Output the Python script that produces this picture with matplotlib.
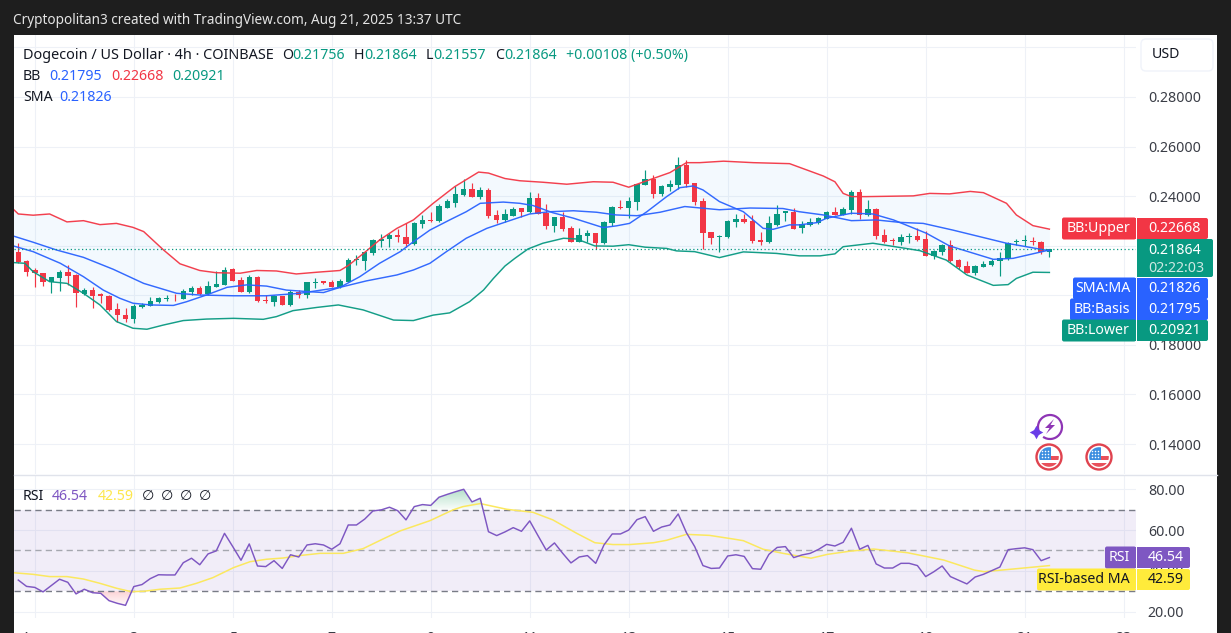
import numpy as np
import matplotlib
matplotlib.use("Agg")
import matplotlib.pyplot as plt
from matplotlib.patches import Rectangle, FancyBboxPatch, Circle, Arc, Polygon
from matplotlib.path import Path
from matplotlib.colors import LinearSegmentedColormap
from matplotlib.ticker import FixedLocator, FixedFormatter

plt.rcParams['font.family'] = ['Noto Sans', 'DejaVu Sans']

# DOGE/USD 4h bars
opens = [.2175,.2138,.2100,.2089,.2055,.2071,.2094,.2082,.2005,.2021,
         .2004,.1997,.1943,.1920,.1903,.1953,.1958,.1973,.1986,.1990,
         .1986,.2012,.2029,.2005,.2035,.2041,.2105,.2062,.2012,.2074,
         .1982,.1973,.1997,.1961,.2015,.2003,.2051,.2056,.2054,.2032,
         .2055,.2141,.2140,.2169,.2220,.2226,.2242,.2235,.2207,.2288,
         .2305,.2298,.2352,.2372,.2405,.2428,.2397,.2425,.2324,.2304,
         .2321,.2351,.2336,.2393,.2331,.2280,.2315,.2272,.2216,.2239,
         .2251,.2211,.2293,.2356,.2352,.2378,.2446,.2469,.2407,.2437,
         .2446,.2524,.2452,.2380,.2254,.2237,.2235,.2296,.2308,.2300,
         .2222,.2216,.2284,.2333,.2335,.2272,.2282,.2290,.2309,.2336,
         .2324,.2344,.2417,.2323,.2348,.2242,.2223,.2214,.2235,.2238,
         .2227,.2157,.2176,.2204,.2142,.2118,.2089,.2115,.2121,.2137,
         .2145,.2214,.2219,.2219,.2214,.21756]
closes = [.2133,.2095,.2089,.2055,.2072,.2094,.2079,.2008,.2021,.1998,
          .1998,.1941,.1920,.1903,.1957,.1962,.1976,.1989,.1990,.1988,
          .2017,.2029,.2005,.2037,.2044,.2102,.2059,.2013,.2074,.1977,
          .1978,.1997,.1962,.2015,.2001,.2052,.2055,.2050,.2035,.2058,
          .2142,.2145,.2173,.2223,.2228,.2243,.2234,.2206,.2290,.2304,
          .2300,.2360,.2380,.2409,.2429,.2398,.2424,.2320,.2304,.2327,
          .2350,.2336,.2393,.2329,.2280,.2315,.2267,.2216,.2242,.2251,
          .2212,.2296,.2356,.2352,.2379,.2448,.2468,.2409,.2440,.2448,
          .2526,.2448,.2376,.2253,.2233,.2239,.2300,.2306,.2296,.2220,
          .2216,.2290,.2328,.2339,.2269,.2288,.2296,.2312,.2336,.2325,
          .2348,.2417,.2324,.2347,.2241,.2215,.2219,.2235,.2238,.2223,
          .2160,.2177,.2202,.2138,.2116,.2090,.2118,.2125,.2138,.2149,
          .2210,.2220,.2222,.2214,.2176,.21864]
highs = [.2210,.2142,.2109,.2091,.2075,.2102,.2123,.2085,.2028,.2035,
         .2008,.2001,.1970,.1947,.1965,.1968,.1992,.1992,.2001,.2005,
         .2027,.2037,.2039,.2059,.2098,.2113,.2110,.2075,.2083,.2078,
         .2001,.2003,.1998,.2021,.2021,.2055,.2068,.2059,.2062,.2064,
         .2149,.2161,.2180,.2228,.2246,.2250,.2266,.2293,.2294,.2324,
         .2337,.2368,.2387,.2442,.2468,.2452,.2436,.2434,.2344,.2347,
         .2358,.2351,.2415,.2412,.2367,.2315,.2337,.2280,.2270,.2263,
         .2253,.2298,.2360,.2385,.2398,.2450,.2506,.2485,.2445,.2465,
         .2557,.2546,.2454,.2391,.2255,.2242,.2302,.2328,.2328,.2324,
         .2254,.2320,.2363,.2341,.2351,.2301,.2311,.2315,.2341,.2358,
         .2358,.2425,.2428,.2385,.2352,.2268,.2233,.2247,.2253,.2270,
         .2259,.2183,.2207,.2223,.2146,.2140,.2122,.2140,.2146,.2176,
         .2214,.2227,.2242,.2237,.2217,.21864]
lows = [.2129,.2078,.2035,.2038,.2011,.2019,.2041,.1954,.2001,.1947,
        .1970,.1938,.1894,.1894,.1887,.1950,.1957,.1970,.1977,.1977,
        .1983,.2001,.2003,.2001,.2035,.2040,.2056,.2012,.2008,.1974,
        .1968,.1958,.1961,.1958,.1988,.1988,.2028,.2046,.2032,.2029,
        .2052,.2122,.2102,.2164,.2196,.2196,.2215,.2196,.2203,.2273,
        .2297,.2296,.2351,.2357,.2402,.2395,.2389,.2313,.2293,.2296,
        .2319,.2317,.2333,.2327,.2269,.2255,.2261,.2214,.2214,.2216,
        .2185,.2207,.2280,.2348,.2313,.2344,.2445,.2394,.2401,.2422,
        .2427,.2438,.2364,.2185,.2207,.2176,.2233,.2277,.2293,.2212,
        .2203,.2210,.2281,.2301,.2266,.2253,.2280,.2288,.2306,.2324,
        .2323,.2328,.2308,.2320,.2227,.2212,.2202,.2204,.2210,.2220,
        .2159,.2145,.2164,.2136,.2105,.2089,.2083,.2113,.2118,.2079,
        .2142,.2203,.2200,.2203,.2167,.21557]

# Bollinger upper band: bar position and level
upper_pos = [-.6,0,1.8,3.8,5.9,7.9,9.9,11.9,13.9,15.2,17.6,19.6,22,24,26.9,28.9,31.3,33.7,36.2,39,40,42,43.8,45.9,47.9,50.3,52.9,55.8,57,59,60.8,63.6,66.5,69.7,72.1,74,76.2,79,81,82.6,85.5,89.1,93.5,95.8,97.6,99,100,101,102.8,108.5,110.5,112.9,115.4,117,119.8,121,123,125]
upper_val = [.2347,.2328,.2323,.2328,.2296,.2301,.2285,.2290,.2274,.2257,.2183,.2127,.2100,.2091,.2089,.2100,.2098,.2086,.2093,.2100,.2120,.2173,.2223,.2270,.2304,.2371,.2438,.2497,.2493,.2471,.2462,.2456,.2448,.2458,.2456,.2436,.2462,.2495,.2535,.2535,.2541,.2535,.2531,.2503,.2481,.2458,.2411,.2398,.2398,.2401,.2411,.2409,.2419,.2414,.2371,.2324,.2281,.22668]

# Bollinger lower band
lower_pos = [-.6,.8,1.8,3.8,5.9,7.9,9.9,11.9,13.9,15.6,17.6,20,22.8,26.1,29.7,31.3,33.3,36.2,38.8,41.8,45.5,47.9,50.3,52.3,54.7,56.4,57.6,59,60.2,61.8,63.6,66.1,67.7,69.9,72.1,74,76,78.6,79.8,82,85,87.9,91.9,94.7,97.2,99,100,103.6,105.7,109.3,112.5,115,118.2,120,121,123,125]
lower_val = [.2132,.2129,.2095,.2055,.2048,.2008,.1961,.1894,.1867,.1863,.1880,.1898,.1904,.1907,.1903,.1914,.1938,.1951,.1961,.1941,.1900,.1898,.1920,.1929,.1974,.2021,.2068,.2118,.2149,.2187,.2210,.2230,.2227,.2199,.2198,.2204,.2194,.2189,.2179,.2176,.2152,.2175,.2169,.2159,.2159,.2167,.2196,.2210,.2199,.2180,.2142,.2082,.2040,.2043,.2068,.2093,.20921]

# Bollinger basis
basis_pos = [-.6,1.8,4.6,7.9,11.5,15.2,19.2,22,26.1,30.1,34.1,39,42.2,45.9,47.9,49.9,51.9,54.3,56.8,59.2,62,64.4,67.3,70.1,72.5,75,77.8,80.8,85,88.7,92.7,94.7,97.6,101,104,106.9,109.7,113.3,119.8,125]
basis_val = [.2239,.2214,.2183,.2153,.2105,.2048,.2008,.2001,.1998,.1998,.2008,.2032,.2058,.2082,.2102,.2129,.2176,.2230,.2270,.2297,.2328,.2337,.2341,.2335,.2324,.2321,.2335,.2358,.2345,.2352,.2350,.2337,.2324,.2301,.2304,.2294,.2290,.2263,.2210,.21795]

# Simple moving average
sma_pos = [-.6,1.8,5.1,7.9,10.3,12.3,13.9,16,18.8,20.4,22.8,25.3,27.7,30.1,32.5,35,37,39,41.4,43.8,46.3,47.9,49.9,52.3,54.3,56,58.8,60.8,62.4,64.8,67.3,70.9,72.5,74.1,76.2,78.6,80.2,81.8,83,85,87.9,90.3,91.5,93.5,94.7,96.8,98,101,103.6,106.1,110.1,112.9,118.2,120.6,125]
sma_val = [.2199,.2176,.2129,.2075,.2021,.1988,.1968,.1961,.1959,.1974,.2001,.2032,.2042,.2037,.2021,.2015,.2011,.2032,.2075,.2129,.2176,.2216,.2263,.2304,.2337,.2371,.2376,.2371,.2362,.2333,.2311,.2273,.2280,.2290,.2337,.2398,.2434,.2441,.2425,.2378,.2337,.2270,.2266,.2284,.2284,.2293,.2311,.2331,.2328,.2304,.2250,.2199,.2145,.2149,.21826]

# RSI, one value per bar
rsi = [35.5,32.4,31.9,29.7,32.8,35.9,34.4,28.7,31.0,29.3,29.0,25.4,24.1,23.1,32.3,33.3,36.2,38.1,38.0,38.0,
       44.0,46.2,43.0,48.3,49.8,58.4,51.9,45.2,53.2,42.4,42.1,45.0,41.2,47.9,46.8,52.7,53.3,52.7,50.6,53.3,
       62.5,62.5,65.4,69.4,69.9,71.2,69.5,65.0,71.5,72.5,72.1,76.1,77.5,78.8,80.0,73.8,75.6,59.2,57.3,59.1,
       61.2,59.4,64.5,57.3,50.2,53.7,48.6,43.9,46.8,47.5,43.7,52.7,58.1,58.1,60.0,65.1,66.6,59.4,61.5,62.5,
       67.9,58.7,51.9,42.6,41.2,41.4,47.3,47.9,47.1,41.1,40.8,48.1,51.5,51.9,46.5,47.8,48.6,50.5,53.0,52.2,
       54.0,60.9,50.6,52.5,43.4,41.4,41.4,43.7,43.7,42.6,37.2,39.6,42.4,37.2,35.4,33.6,37.0,38.3,40.1,41.9,
       50.4,50.9,51.3,50.4,45.0,46.54]

# RSI-based moving average
rsi_ma_pos = [-.6,1.8,3.8,5.9,7.9,9.9,11.9,13.7,15.2,17.2,19.6,21.6,23.6,26.1,28.1,30.1,32.1,34.1,36.6,39.4,41.8,44.2,46.3,49.9,52.7,53.9,56,59.2,62.4,64.8,67.7,69.9,72.1,74.1,77,78.6,81,83.8,86.7,87.9,90.3,92.7,96.1,98.1,100.9,103.7,107.8,112.2,115.9,117.1,120.3,125]
rsi_ma_val = [39.1,38.3,37.2,37.2,36.0,33.9,31.5,29.8,30.0,31.0,31.6,33.9,36.7,41.6,44.5,45.7,46.3,47.5,48.6,48.6,50.9,55.6,59.6,64.6,69.9,71.5,73.0,70.2,68.7,65.0,58.4,53.8,52.9,52.9,53.8,55.0,57.9,57.4,55.6,54.8,50.6,48.6,46.2,48.1,49.7,50.7,48.9,45.3,40.4,39.6,40.8,42.59]

day_ticks = [2, 14, 26, 38, 50, 62, 74, 86, 98, 110, 122, 134]
day_labels = ['Aug', '3', '5', '7', '9', '11', '13', '15', '17', '19', '21', '23']
price_grid = [.14, .16, .18, .20, .22, .24, .26, .28, .30]
price_labels = ['0.14000', '0.16000', '0.18000', '', '', '0.24000', '0.26000', '0.28000', '']
rsi_grid = [20, 40, 60, 80]
rsi_labels = ['20.00', '40.00', '60.00', '80.00']

last_open, last_high, last_low, last_close = opens[-1], highs[-1], lows[-1], closes[-1]

GREEN = '#089981'
RED = '#F23645'
BLUE = '#2962FF'
PURPLE = '#7E57C2'
YELLOW = '#FDE74C'
GRID = '#EEF1F7'
INK = '#131722'
TICK = '#3a3d46'

W, H = 1231, 633
fig = plt.figure(figsize=(W / 100, H / 100), dpi=100, facecolor='#1E1E1E')


def pane(left, top, right, bottom, **kw):
    return fig.add_axes([left / W, 1 - bottom / H, (right - left) / W, (bottom - top) / H], **kw)


# White sheet behind the panes
fig.patches.append(Rectangle((14 / W, 0), (1217 - 14) / W, (633 - 35) / H, transform=fig.transFigure,
                             facecolor='white', edgecolor='none', zorder=-5))

ax = pane(14, 35, 1136, 474, facecolor='none')
ax2 = pane(14, 475, 1136, 618, facecolor='none')

bars = np.arange(len(opens))
x_min, x_max = -0.52, 135.5
for a in (ax, ax2):
    a.set_xlim(x_min, x_max)
    for s in a.spines.values():
        s.set_visible(False)
    a.yaxis.tick_right()
    a.xaxis.set_major_locator(FixedLocator(day_ticks))
    a.grid(True, color=GRID, lw=0.75, zorder=0)
    a.set_axisbelow(True)

ax.set_ylim(.1279, .3050)
ax.yaxis.set_major_locator(FixedLocator(price_grid))
ax.yaxis.set_major_formatter(FixedFormatter(price_labels))
ax.tick_params(axis='y', length=0, pad=8.5, labelsize=10.2, labelcolor=TICK)
ax.tick_params(axis='x', length=0, labelbottom=False)

# Bollinger fill and bands
fill_x = np.array(upper_pos)
ax.fill_between(fill_x, upper_val, np.interp(fill_x, lower_pos, lower_val), color='#2196F3', alpha=0.05, lw=0, zorder=1)

# Candles
o, c, hi, lo = map(np.array, (opens, closes, highs, lows))
colours = [GREEN if cl >= op else RED for op, cl in zip(o, c)]
ax.vlines(bars, lo, hi, colors=colours, lw=0.85, zorder=2)
ax.bar(bars, np.maximum(np.abs(c - o), 0.00025), bottom=np.minimum(o, c), width=0.66, color=colours, lw=0, zorder=3)

# Indicator lines
ax.plot(upper_pos, upper_val, color=RED, lw=1.05, zorder=4, alpha=0.95)
ax.plot(lower_pos, lower_val, color=GREEN, lw=1.05, zorder=4, alpha=0.95)
ax.plot(basis_pos, basis_val, color=BLUE, lw=1.05, zorder=4, alpha=0.95)
ax.plot(sma_pos, sma_val, color=BLUE, lw=1.05, zorder=4, alpha=0.95)
ax.axhline(last_close, color=GREEN, lw=0.9, ls=(0, (1, 2)), zorder=4)

# RSI pane
ax2.set_ylim(16.9, 87.0)
ax2.yaxis.set_major_locator(FixedLocator(rsi_grid))
ax2.yaxis.set_major_formatter(FixedFormatter(rsi_labels))
ax2.tick_params(axis='y', length=0, pad=8.5, labelsize=10.2, labelcolor=TICK)
ax2.set_xticks(day_ticks, day_labels)
ax2.tick_params(axis='x', length=0, pad=9.5, labelsize=10.2, labelcolor=TICK)

ax2.axhspan(30, 70, color=PURPLE, alpha=0.1, lw=0, zorder=1)
for level, col in ((70, '#787B86'), (50, '#A5A7AF'), (30, '#787B86')):
    ax2.axhline(level, color=col, lw=1, ls=(0, (4.5, 3)), zorder=2)


def gradient_region(where, base, near, rgb, extent_y):
    # Soft colour wash between the RSI line and a threshold, faded by distance from `near`
    region = ax2.fill_between(bars, rsi, base, where=where, interpolate=True, color='none', lw=0)
    paths = region.get_paths()
    if not paths:
        return
    cmap = LinearSegmentedColormap.from_list('wash', [(*rgb, near[0]), (*rgb, near[1])])
    img = ax2.imshow(np.linspace(0, 1, 64).reshape(-1, 1), cmap=cmap, origin='lower', aspect='auto',
                     extent=(x_min, x_max, extent_y[0], extent_y[1]), zorder=1.5)
    img.set_clip_path(Path.make_compound_path(*paths), ax2.transData)


rsi_arr = np.array(rsi)
gradient_region(rsi_arr > 70, 70, (0.02, 0.30), (0.03, 0.60, 0.30), (70, 80))
gradient_region(rsi_arr < 30, 30, (0.02, 0.22), (0.95, 0.21, 0.27), (23, 30))
ax2.set_xlim(x_min, x_max)
ax2.set_ylim(16.9, 87.0)

ax2.plot(rsi_ma_pos, rsi_ma_val, color='#FBE85F', lw=1.1, zorder=3)
ax2.plot(bars, rsi, color=PURPLE, lw=1.05, zorder=4)

# Overlay in pixel units for the header, legends, tags and event badges
ov = fig.add_axes([0, 0, 1, 1], facecolor='none', zorder=10)
ov.set_xlim(0, W)
ov.set_ylim(H, 0)
ov.axis('off')


def label(x, y, s, color=INK, size=10.2, ha='left', **kw):
    return ov.text(x, y + 1.2, s, color=color, fontsize=size, ha=ha, va='center', **kw)


def tag(x0, x1, y0, y1, color):
    ov.add_patch(FancyBboxPatch((x0 + 1.5, y0 + 1), x1 - x0 - 3, y1 - y0 - 2,
                                boxstyle='round,pad=1.5,rounding_size=2', facecolor=color, edgecolor='none'))
    ov.add_patch(Rectangle((x1 - 5, y0), 5, y1 - y0, facecolor=color, edgecolor='none'))


label(13, 19.5, 'Cryptopolitan3 created with TradingView.com, Aug 21, 2025 13:37 UTC', color='#E4E4E4', size=9.75)
ov.plot([14, 1217], [474.5, 474.5], color='#E0E3EB', lw=1)

# Symbol legend
label(23, 54, 'Dogecoin / US Dollar · 4h · COINBASE', size=10.4)
for x, s in ((282, 'O'), (354, 'H'), (426, 'L'), (495, 'C')):
    label(x, 54, s)
for x, v in ((292, last_open), (364, last_high), (433, last_low), (504, last_close)):
    label(x, 54, f'{v:.5f}', color=GREEN)
label(566, 54, '+0.00108 (+0.50%)', color=GREEN)

label(23, 75, 'BB')
for x, v, col in ((49, basis_val[-1], BLUE), (111, upper_val[-1], RED), (172, lower_val[-1], GREEN)):
    label(x, 75, f'{v:.5f}', color=col)
label(23, 96, 'SMA')
label(59, 96, f'{sma_val[-1]:.5f}', color=BLUE)

label(23, 495, 'RSI')
label(52, 495, f'{rsi[-1]:.2f}', color=PURPLE)
label(98, 495, f'{rsi_ma_val[-1]:.2f}', color=YELLOW)
for x in (148, 167, 186, 205):
    label(x, 495, '∅', ha='center')

# USD button
ov.add_patch(FancyBboxPatch((1144, 42), 66, 26, boxstyle='round,pad=3,rounding_size=5',
                            facecolor='white', edgecolor='#F0F3FA', lw=1))
label(1152, 53.5, 'USD', color=INK)

# Price tags
price_tags = [
    (1062, 218, 239, RED, 'BB:Upper', upper_val[-1], 1208),
    (1073, 278, 299, BLUE, 'SMA:MA', sma_val[-1], 1208),
    (1070, 299, 320, BLUE, 'BB:Basis', basis_val[-1], 1208),
    (1062, 320, 341, GREEN, 'BB:Lower', lower_val[-1], 1208),
]
for x0, y0, y1, col, name, val, x_end in price_tags:
    tag(x0, 1136, y0, y1, col)
    label(1130, (y0 + y1) / 2 - 1, name, color='white', ha='right')
    ov.add_patch(Rectangle((1137, y0), x_end - 1137 - 2, y1 - y0, facecolor=col, edgecolor='none'))
    ov.add_patch(FancyBboxPatch((1140, y0 + 2), x_end - 1142, y1 - y0 - 4,
                                boxstyle='round,pad=2,rounding_size=2', facecolor=col, edgecolor='none'))
    label(1148, (y0 + y1) / 2 - 1, f'{val:.5f}', color='white')

ov.add_patch(Rectangle((1137, 239), 73, 38, facecolor=GREEN, edgecolor='none'))
ov.add_patch(FancyBboxPatch((1140, 241), 71, 34, boxstyle='round,pad=2,rounding_size=2', facecolor=GREEN, edgecolor='none'))
label(1148, 249, f'{last_close:.5f}', color='white')
label(1148, 267, '02:22:03', color='#CDE9E3')

# RSI tags
for x0, y0, y1, col, name, val, fg in ((1105, 547, 568, PURPLE, 'RSI', rsi[-1], 'white'),
                                       (1037, 569, 590, '#FFEB3B', 'RSI-based MA', rsi_ma_val[-1], INK)):
    tag(x0, 1136, y0, y1, col)
    label(1130, (y0 + y1) / 2 - 1, name, color=fg, ha='right')
    ov.add_patch(Rectangle((1137, y0), 50, y1 - y0, facecolor=col, edgecolor='none'))
    ov.add_patch(FancyBboxPatch((1140, y0 + 2), 48, y1 - y0 - 4, boxstyle='round,pad=2,rounding_size=2',
                                facecolor=col, edgecolor='none'))
    label(1148, (y0 + y1) / 2 - 1, f'{val:.2f}', color=fg)


def flag_badge(cx, cy):
    ring = Circle((cx, cy), 12.5, facecolor='white', edgecolor='#E0434F', lw=1.7)
    ov.add_patch(ring)
    disc = Circle((cx, cy), 9.8, transform=ov.transData, facecolor='none', edgecolor='none')
    ov.add_patch(disc)
    for rect in (Rectangle((cx - 10, cy + 6), 20, 5, facecolor='#E8505B', edgecolor='none'),
                 Rectangle((cx - 1, cy - 1), 11, 4, facecolor='#E8505B', edgecolor='none'),
                 Rectangle((cx - 10, cy - 10), 12, 13, facecolor='#3E8FE0', edgecolor='none')):
        ov.add_patch(rect)
        rect.set_clip_path(disc)
    dots = ov.scatter(np.repeat(cx + np.array([-7, -4, -1]), 3), np.tile(cy + np.array([-6, -3, 0]), 3),
                      s=1.2, color='white', lw=0)
    dots.set_clip_path(disc)


flag_badge(1049, 457)
flag_badge(1099, 457)

# Lightning event badge
ov.add_patch(Arc((1050, 427), 24, 24, theta1=-215, theta2=125, color='#8E35B5', lw=1.6))
ov.add_patch(Polygon([(1054, 419), (1045, 428), (1049.5, 428), (1046, 434), (1055, 425), (1050.5, 425)],
                     closed=True, facecolor='#8E35B5', edgecolor='none'))
ov.scatter([1035.5], [431.5], marker=(4, 1, 0), s=95, color='#6A3DE8', lw=0)

fig.savefig('out.png', dpi=100, facecolor=fig.get_facecolor())
